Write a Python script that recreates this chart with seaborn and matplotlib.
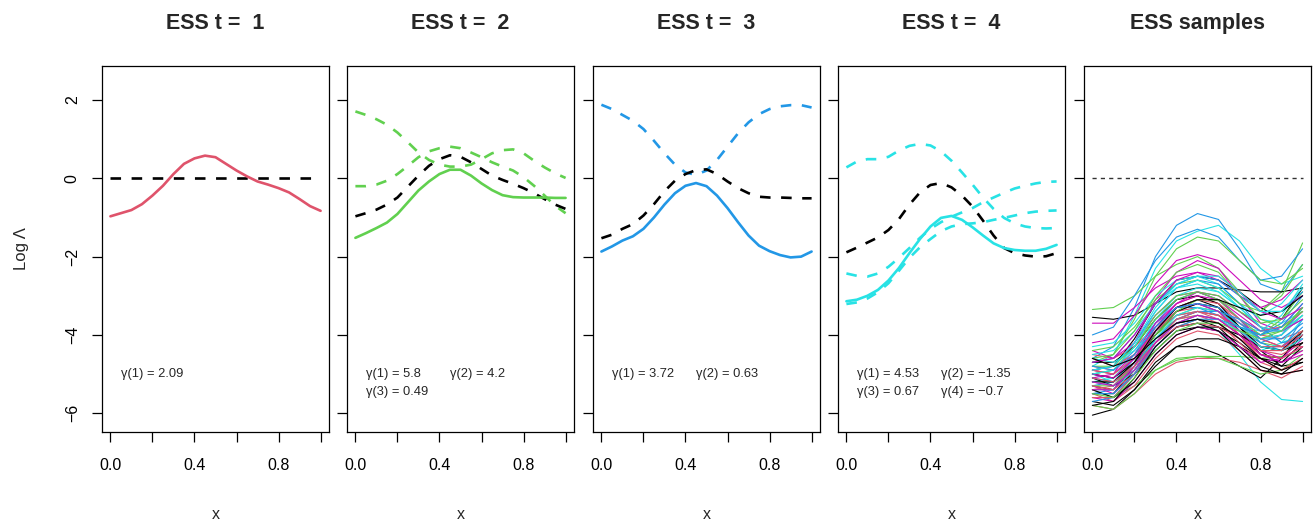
import matplotlib
matplotlib.use("Agg")
import matplotlib.pyplot as plt
import seaborn as sns
import numpy as np
import pandas as pd

# ---------------- data ----------------
X21 = [0.0, 0.05, 0.1, 0.15, 0.2, 0.25, 0.3, 0.35, 0.4, 0.45, 0.5,
       0.55, 0.6, 0.65, 0.7, 0.75, 0.8, 0.85, 0.9, 0.95, 1.0]
X11 = [0.0, 0.1, 0.2, 0.3, 0.4, 0.5, 0.6, 0.7, 0.8, 0.9, 1.0]

TITLES = ["ESS t =  1", "ESS t =  2", "ESS t =  3", "ESS t =  4", "ESS samples"]
PANEL_COLORS = ["#DF536B", "#61D04F", "#2297E6", "#28E2E5"]

# panel 1
p1_solid = [-0.97, -0.89, -0.81, -0.66, -0.44, -0.19, 0.11, 0.37, 0.51, 0.58, 0.54,
            0.37, 0.20, 0.05, -0.08, -0.16, -0.25, -0.36, -0.53, -0.71, -0.83]
p1_ref = [0.0] * 21

# panel 2
p2_solid = [-1.52, -1.40, -1.27, -1.13, -0.91, -0.61, -0.31, -0.08, 0.11, 0.22, 0.22,
            0.07, -0.13, -0.30, -0.43, -0.48, -0.49, -0.49, -0.49, -0.50, -0.50]
p2_ref = [-0.97, -0.89, -0.80, -0.67, -0.49, -0.21, 0.07, 0.32, 0.49, 0.59, 0.55,
          0.41, 0.24, 0.07, -0.04, -0.14, -0.25, -0.38, -0.53, -0.67, -0.78]
p2_dash_a = [1.71, 1.62, 1.51, 1.37, 1.17, 0.92, 0.66, 0.47, 0.35, 0.30, 0.30,
             0.35, 0.49, 0.64, 0.72, 0.74, 0.64, 0.45, 0.28, 0.13, 0.01]
p2_dash_b = [-0.20, -0.20, -0.16, -0.06, 0.11, 0.32, 0.54, 0.69, 0.77, 0.81, 0.77,
             0.66, 0.54, 0.41, 0.30, 0.20, 0.03, -0.19, -0.44, -0.70, -0.89]

# panel 3
p3_solid = [-1.87, -1.74, -1.59, -1.48, -1.29, -1.00, -0.67, -0.38, -0.19, -0.12, -0.20,
            -0.44, -0.76, -1.12, -1.46, -1.72, -1.86, -1.96, -2.02, -2.00, -1.87]
p3_ref = [-1.53, -1.44, -1.29, -1.17, -0.95, -0.66, -0.33, -0.06, 0.11, 0.21, 0.23,
          0.11, -0.08, -0.25, -0.38, -0.47, -0.49, -0.49, -0.50, -0.51, -0.51]
p3_dash_a = [1.88, 1.77, 1.62, 1.47, 1.26, 0.96, 0.64, 0.35, 0.15, 0.09, 0.20,
             0.47, 0.81, 1.15, 1.43, 1.64, 1.77, 1.84, 1.87, 1.87, 1.81]

# panel 4
p4_solid = [-3.14, -3.10, -3.00, -2.85, -2.61, -2.29, -1.91, -1.55, -1.23, -1.01, -0.96,
            -1.06, -1.25, -1.46, -1.66, -1.78, -1.83, -1.85, -1.85, -1.80, -1.70]
p4_ref = [-1.89, -1.77, -1.64, -1.51, -1.32, -1.04, -0.67, -0.36, -0.17, -0.12, -0.23,
          -0.44, -0.72, -1.08, -1.46, -1.78, -1.91, -1.97, -2.00, -1.99, -1.91]
p4_dash_a = [0.28, 0.43, 0.49, 0.49, 0.55, 0.71, 0.83, 0.88, 0.84, 0.69, 0.45,
             0.15, -0.16, -0.49, -0.78, -1.01, -1.15, -1.23, -1.27, -1.28, -1.27]
p4_dash_b = [-2.43, -2.49, -2.51, -2.43, -2.26, -2.03, -1.78, -1.52, -1.29, -1.12, -0.98,
             -0.87, -0.76, -0.61, -0.49, -0.37, -0.26, -0.19, -0.13, -0.09, -0.08]
p4_dash_c = [-3.21, -3.17, -3.07, -2.91, -2.68, -2.36, -2.03, -1.76, -1.55, -1.35, -1.23,
             -1.17, -1.15, -1.12, -1.06, -1.01, -0.95, -0.89, -0.85, -0.83, -0.82]

# annotations: (label, x, y)
p1_gamma = [("γ(1) = 2.09", 0.05, -5.0)]
p2_gamma = [("γ(1) = 5.8", 0.05, -5.0), ("γ(2) = 4.2", 0.45, -5.0), ("γ(3) = 0.49", 0.05, -5.45)]
p3_gamma = [("γ(1) = 3.72", 0.05, -5.0), ("γ(2) = 0.63", 0.45, -5.0)]
p4_gamma = [("γ(1) = 4.53", 0.05, -5.0), ("γ(2) = −1.35", 0.45, -5.0),
            ("γ(3) = 0.67", 0.05, -5.45), ("γ(4) = −0.7", 0.45, -5.45)]

# panel 5: ESS samples
SAMPLE_COLORS = ["#2297E6", "#28E2E5", "#61D04F", "#28E2E5", "black", "#DF536B", "#61D04F",
                 "black", "black", "#CD0BBC", "#2297E6", "#61D04F", "#CD0BBC", "#DF536B",
                 "#28E2E5", "black", "#DF536B", "#61D04F", "#2297E6", "#CD0BBC", "#28E2E5",
                 "#DF536B", "black", "#61D04F", "#2297E6", "#CD0BBC", "#28E2E5", "#DF536B",
                 "black", "#61D04F", "#2297E6", "#CD0BBC", "#28E2E5", "#DF536B", "black",
                 "#61D04F", "#2297E6", "#CD0BBC", "#DF536B", "#28E2E5", "black", "#CD0BBC",
                 "#61D04F", "#2297E6", "#DF536B",
                 "black", "#DF536B", "#61D04F", "#2297E6", "#28E2E5", "#CD0BBC",
                 "black", "#DF536B", "#61D04F", "#2297E6", "#28E2E5", "#CD0BBC",
                 "black", "#DF536B", "#61D04F", "#2297E6", "#28E2E5", "#CD0BBC",
                 "black", "#DF536B", "#61D04F", "#2297E6", "#28E2E5", "#CD0BBC", "black"]
SAMPLES = [
    [-4.6, -4.3, -3.3, -2.0, -1.2, -0.9, -1.05, -1.8, -2.7, -2.9, -2.2],
    [-4.8, -4.5, -3.5, -2.3, -1.6, -1.35, -1.2, -1.6, -2.3, -2.7, -2.5],
    [-3.35, -3.3, -3.0, -2.5, -2.2, -2.0, -2.3, -2.9, -3.4, -2.9, -1.65],
    [-5.0, -5.2, -4.9, -4.3, -3.8, -3.7, -3.9, -4.5, -5.2, -5.65, -5.7],
    [-6.05, -5.9, -5.4, -4.7, -4.3, -4.3, -4.5, -4.8, -5.1, -4.6, -3.9],
    [-5.8, -5.9, -5.5, -5.0, -4.7, -4.6, -4.6, -4.7, -4.9, -5.0, -4.9],
    [-5.4, -5.6, -5.3, -4.9, -4.65, -4.55, -4.55, -4.55, -4.6, -4.55, -4.4],
    [-4.9, -4.8, -4.1, -3.2, -2.6, -2.5, -2.6, -2.9, -3.3, -3.6, -2.8],
    [-3.55, -3.6, -3.5, -3.2, -2.9, -2.8, -2.8, -2.85, -2.9, -2.9, -2.8],
    [-3.7, -3.7, -3.3, -2.8, -2.5, -2.4, -2.6, -3.0, -3.3, -3.1, -2.6],
    [-4.0, -3.8, -3.0, -2.1, -1.5, -1.3, -1.5, -2.1, -2.6, -2.5, -1.8],
    [-4.7, -4.5, -3.6, -2.5, -1.8, -1.5, -1.6, -2.1, -2.6, -2.7, -2.3],
    [-5.1, -5.0, -4.2, -3.1, -2.4, -2.1, -2.3, -3.0, -3.7, -3.9, -3.4],
    [-5.0, -5.1, -4.6, -3.8, -3.2, -3.0, -3.2, -3.7, -4.1, -4.0, -3.5],
    [-4.3, -4.2, -3.7, -3.0, -2.6, -2.5, -2.7, -3.2, -3.6, -3.7, -3.4],
    [-5.3, -5.4, -4.8, -3.9, -3.3, -3.1, -3.3, -3.9, -4.5, -4.6, -4.0],
    [-4.5, -4.6, -4.3, -3.8, -3.4, -3.3, -3.4, -3.7, -4.0, -4.1, -3.9],
    [-5.2, -5.2, -4.7, -4.0, -3.5, -3.3, -3.4, -3.8, -4.2, -4.3, -3.9],
    [-5.5, -5.4, -4.7, -3.7, -3.1, -2.9, -3.1, -3.6, -4.2, -4.4, -3.6],
    [-4.4, -4.6, -4.2, -3.5, -3.0, -2.9, -3.1, -3.6, -4.1, -4.3, -4.0],
    [-5.6, -5.6, -5.0, -4.2, -3.7, -3.6, -3.7, -4.1, -4.4, -4.2, -3.6],
    [-5.5, -5.7, -5.3, -4.6, -4.1, -3.9, -4.0, -4.4, -4.9, -5.1, -4.8],
    [-4.7, -4.7, -4.3, -3.6, -3.1, -3.0, -3.2, -3.8, -4.4, -4.8, -4.3],
    [-4.9, -5.0, -4.6, -4.0, -3.6, -3.5, -3.6, -3.9, -4.0, -3.6, -2.9],
    [-5.0, -4.9, -4.4, -3.7, -3.3, -3.3, -3.5, -3.9, -4.2, -4.0, -3.3],
    [-5.3, -5.5, -5.0, -4.2, -3.7, -3.5, -3.6, -4.0, -4.5, -4.7, -4.4],
    [-5.2, -5.1, -4.5, -3.6, -3.0, -2.8, -2.9, -3.3, -3.8, -4.2, -4.0],
    [-4.8, -4.9, -4.5, -3.9, -3.5, -3.4, -3.6, -4.0, -4.4, -4.5, -4.2],
    [-5.7, -5.8, -5.4, -4.8, -4.3, -4.1, -4.1, -4.3, -4.6, -4.8, -4.7],
    [-5.8, -5.9, -5.5, -4.9, -4.6, -4.55, -4.6, -4.8, -5.0, -4.9, -4.5],
    [-4.9, -4.8, -4.2, -3.4, -2.8, -2.6, -2.7, -3.2, -3.8, -4.2, -4.1],
    [-4.9, -5.0, -4.5, -3.7, -3.2, -3.0, -3.1, -3.5, -3.9, -3.8, -3.2],
    [-4.6, -4.7, -4.4, -3.9, -3.5, -3.4, -3.5, -3.8, -3.9, -3.5, -2.7],
    [-5.4, -5.3, -4.7, -3.9, -3.4, -3.2, -3.4, -4.0, -4.6, -4.9, -4.6],
    [-5.1, -5.3, -5.0, -4.4, -3.9, -3.8, -3.9, -4.2, -4.6, -4.7, -4.2],
    [-4.4, -4.3, -3.8, -3.1, -2.7, -2.6, -2.8, -3.2, -3.4, -3.0, -2.2],
    [-5.3, -5.2, -4.6, -3.8, -3.3, -3.2, -3.4, -3.8, -4.0, -3.7, -3.0],
    [-4.2, -4.1, -3.5, -2.7, -2.1, -1.95, -2.1, -2.6, -3.1, -3.3, -3.0],
    [-5.2, -5.3, -4.8, -4.1, -3.6, -3.5, -3.7, -4.2, -4.7, -4.9, -4.6],
    [-4.5, -4.4, -3.9, -3.2, -2.8, -2.7, -2.9, -3.3, -3.5, -3.2, -2.6],
    [-5.5, -5.5, -4.9, -4.1, -3.7, -3.6, -3.8, -4.3, -4.8, -5.0, -4.9],
    [-5.6, -5.7, -5.2, -4.5, -4.0, -3.8, -3.9, -4.3, -4.7, -4.6, -4.1],
    [-5.0, -4.9, -4.3, -3.5, -3.0, -2.9, -3.1, -3.6, -4.0, -3.9, -3.3],
    [-5.7, -5.6, -5.0, -4.1, -3.6, -3.4, -3.5, -3.9, -4.3, -4.3, -3.8],
    [-4.6, -4.8, -4.5, -3.9, -3.5, -3.4, -3.5, -3.8, -4.1, -4.3, -4.3],
    [-5.0, -5.1, -4.7, -4.0, -3.4, -3.2, -3.3, -3.8, -4.3, -4.4, -3.9],
    [-4.9, -5.0, -4.6, -3.9, -3.3, -3.1, -3.2, -3.6, -3.9, -3.8, -3.4],
    [-5.3, -5.3, -4.8, -4.0, -3.4, -3.1, -3.1, -3.4, -3.8, -3.9, -3.5],
    [-5.1, -5.2, -4.8, -4.1, -3.6, -3.4, -3.4, -3.6, -3.9, -3.9, -3.6],
    [-5.4, -5.4, -4.9, -4.1, -3.5, -3.3, -3.4, -3.8, -4.1, -4.0, -3.5],
    [-5.0, -5.1, -4.6, -3.8, -3.2, -2.9, -3.0, -3.4, -3.8, -3.9, -3.6],
    [-5.4, -5.6, -5.2, -4.5, -4.0, -3.8, -3.8, -4.0, -4.3, -4.4, -4.2],
    [-5.6, -5.6, -5.0, -4.2, -3.6, -3.4, -3.5, -3.9, -4.3, -4.3, -3.9],
    [-4.8, -4.8, -4.3, -3.6, -3.1, -2.9, -3.0, -3.4, -3.7, -3.6, -3.1],
    [-4.7, -4.6, -4.0, -3.2, -2.7, -2.5, -2.6, -3.0, -3.4, -3.4, -2.9],
    [-5.0, -4.9, -4.3, -3.4, -2.8, -2.6, -2.8, -3.3, -3.8, -3.9, -3.5],
    [-5.4, -5.4, -4.8, -3.9, -3.3, -3.2, -3.4, -3.9, -4.4, -4.6, -4.3],
    [-5.2, -5.2, -4.7, -3.9, -3.3, -3.1, -3.1, -3.3, -3.5, -3.4, -3.0],
    [-5.3, -5.4, -5.0, -4.3, -3.8, -3.6, -3.7, -4.1, -4.5, -4.6, -4.3],
    [-4.6, -4.5, -3.9, -3.0, -2.4, -2.2, -2.4, -3.0, -3.6, -3.8, -3.4],
    [-5.5, -5.5, -5.0, -4.3, -3.8, -3.6, -3.6, -3.8, -4.0, -3.8, -3.2],
    [-5.2, -5.3, -4.9, -4.2, -3.7, -3.5, -3.6, -3.9, -4.3, -4.4, -4.1],
    [-4.7, -4.6, -4.0, -3.2, -2.6, -2.4, -2.5, -2.9, -3.4, -3.6, -3.3],
    [-5.8, -5.7, -5.1, -4.3, -3.8, -3.7, -3.9, -4.4, -4.9, -5.0, -4.6],
    [-5.1, -5.2, -4.8, -4.2, -3.8, -3.7, -3.8, -4.1, -4.4, -4.4, -4.0],
    [-5.5, -5.6, -5.1, -4.4, -3.9, -3.7, -3.7, -3.9, -4.1, -3.9, -3.3],
    [-4.8, -4.9, -4.5, -3.8, -3.3, -3.2, -3.3, -3.7, -4.1, -4.1, -3.7],
    [-4.9, -4.8, -4.2, -3.3, -2.7, -2.5, -2.5, -2.9, -3.4, -3.4, -2.8],
    [-5.2, -5.3, -4.9, -4.2, -3.7, -3.5, -3.6, -4.0, -4.5, -4.7, -4.5],
    [-4.6, -4.8, -4.6, -4.1, -3.7, -3.6, -3.7, -4.1, -4.6, -4.9, -4.7],
]
p5_ref = [0.0] * 11

X_TICKS = [0.0, 0.2, 0.4, 0.6, 0.8, 1.0]
X_TICKLABELS = ["0.0", "", "0.4", "", "0.8", ""]
Y_TICKS = [-6, -4, -2, 0, 2]
Y_TICKLABELS = ["−6", "−4", "−2", "0", "2"]

# ---------------- style ----------------
sns.set_style("ticks")
plt.rcParams["font.family"] = ["Liberation Sans", "DejaVu Sans"]
plt.rcParams["axes.linewidth"] = 0.9
plt.rcParams["xtick.major.size"] = 7
plt.rcParams["ytick.major.size"] = 7
plt.rcParams["xtick.major.width"] = 0.9
plt.rcParams["ytick.major.width"] = 0.9
plt.rcParams["xtick.color"] = "black"
plt.rcParams["ytick.color"] = "black"
plt.rcParams["axes.edgecolor"] = "black"

fig = plt.figure(figsize=(13.14, 5.21), dpi=100)
W, H = 1314, 521
lefts = [102, 347, 593, 838, 1084]
pw = 227
top, bottom = 66, 432
axes = [fig.add_axes([l / W, 1 - bottom / H, pw / W, (bottom - top) / H]) for l in lefts]

DASH = (0, (4, 4))
LW = 1.9

def draw(ax, y, color, dashed=False, x=X21, lw=LW):
    sns.lineplot(x=x, y=y, ax=ax, color=color, linewidth=lw,
                 linestyle=DASH if dashed else "-", estimator=None, sort=False)

# panel 1
draw(axes[0], p1_ref, "black", True)
draw(axes[0], p1_solid, PANEL_COLORS[0])
# panel 2
draw(axes[1], p2_dash_a, PANEL_COLORS[1], True)
draw(axes[1], p2_dash_b, PANEL_COLORS[1], True)
draw(axes[1], p2_ref, "black", True)
draw(axes[1], p2_solid, PANEL_COLORS[1])
# panel 3
draw(axes[2], p3_dash_a, PANEL_COLORS[2], True)
draw(axes[2], p3_ref, "black", True)
draw(axes[2], p3_solid, PANEL_COLORS[2])
# panel 4
draw(axes[3], p4_dash_a, PANEL_COLORS[3], True)
draw(axes[3], p4_dash_b, PANEL_COLORS[3], True)
draw(axes[3], p4_dash_c, PANEL_COLORS[3], True)
draw(axes[3], p4_ref, "black", True)
draw(axes[3], p4_solid, PANEL_COLORS[3])
# panel 5
for vals, col in zip(SAMPLES, SAMPLE_COLORS):
    draw(axes[4], vals, col, False, X11, 0.8)
sns.lineplot(x=X11, y=p5_ref, ax=axes[4], color="#333333", linewidth=1.0,
             linestyle=(0, (3, 3)))

for ax, gam in zip(axes[:4], [p1_gamma, p2_gamma, p3_gamma, p4_gamma]):
    for lab, gx, gy in gam:
        ax.text(gx, gy, lab, ha="left", va="center", fontsize=9.3)

for i, ax in enumerate(axes):
    ax.set_xlim(-0.04, 1.04)
    ax.set_ylim(-6.48, 2.87)
    ax.set_xticks(X_TICKS)
    ax.set_xticklabels(X_TICKLABELS, fontsize=11.5)
    ax.set_yticks(Y_TICKS)
    ax.tick_params(axis="x", pad=12)
    ax.tick_params(axis="y", pad=9)
    if i == 0:
        ax.set_yticklabels(Y_TICKLABELS, fontsize=11.5, rotation=90, va="center")
        ax.set_ylabel("Log Λ", fontsize=12, labelpad=26)
    else:
        ax.set_yticklabels([])
        ax.set_ylabel("")
    ax.set_xlabel("x", fontsize=11.5, labelpad=24)
    ax.set_title(TITLES[i], fontsize=15.5, fontweight="bold", pad=27)
    for s in ax.spines.values():
        s.set_visible(True)
        s.set_color("black")

fig.savefig("out.png", dpi=100)
